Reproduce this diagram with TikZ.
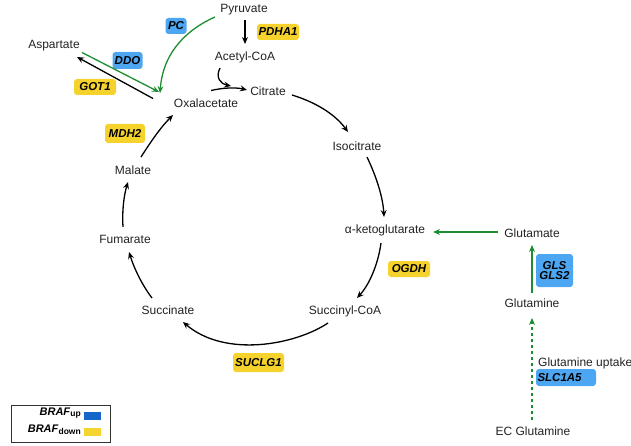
\documentclass[tikz,border=0pt]{standalone}
\usepackage{fontspec}
\setmainfont{Liberation Sans}
\usetikzlibrary{arrows.meta}
\definecolor{gblue}{HTML}{4DA6F2}
\definecolor{gyellow}{HTML}{F5D22C}
\definecolor{ggreen}{HTML}{1E8C30}
\definecolor{lblue}{HTML}{1566C8}
\definecolor{lyellow}{HTML}{F5D430}
\definecolor{txt}{HTML}{222222}
\tikzset{
  met/.style={inner sep=0pt, text=txt, font=\fontsize{12}{14}\selectfont},
  enz/.style={rounded corners=3pt, inner sep=0.5pt, text=black, align=center,
    font=\fontsize{11.5}{12}\selectfont\bfseries\itshape},
  upbox/.style={enz, fill=gblue},
  downbox/.style={enz, fill=gyellow},
  arr/.style={line width=1.3pt, -{Stealth[length=7pt,width=6pt,inset=2.5pt]}},
  blk/.style={arr, black},
  grn/.style={arr, ggreen},
}
\begin{document}
\begin{tikzpicture}[x=1pt,y=-1pt]
\useasboundingbox (0,0) rectangle (631,446);
% metabolites
\node[met] (pyr) at (244,10) {Pyruvate};
\node[met] (aco) at (245,57) {Acetyl-CoA};
\node[met] (asp) at (54,46) {Aspartate};
\node[met] (oaa) at (206,103) {Oxalacetate};
\node[met] (cit) at (268,91) {Citrate};
\node[met] (iso) at (357,146) {Isocitrate};
\node[met] (akg) at (385,230) {α-ketoglutarate};
\node[met] (glu) at (532,233) {Glutamate};
\node[met] (gln) at (532,303) {Glutamine};
\node[met] (ecg) at (533,431) {EC Glutamine};
\node[met] (scoa) at (345,311) {Succinyl-CoA};
\node[met] (suc) at (168,310) {Succinate};
\node[met] (fum) at (125,239) {Fumarate};
\node[met] (mal) at (133,170) {Malate};
\node[met, anchor=west] (upt) at (538,363) {Glutamine uptake};
% enzymes
\node[upbox, minimum width=21pt, minimum height=16pt] (pc) at (176,26) {PC};
\node[downbox, minimum width=42pt, minimum height=16pt] (pdha) at (278,32) {PDHA1};
\node[upbox, minimum width=30pt, minimum height=17pt] (ddo) at (127.5,60.5) {DDO};
\node[downbox, minimum width=42pt, minimum height=16pt] (got) at (95,87) {GOT1};
\node[downbox, minimum width=40pt, minimum height=19pt] (mdh) at (125,133.5) {MDH2};
\node[downbox, minimum width=42pt, minimum height=16pt] (ogdh) at (409,269) {OGDH};
\node[downbox, minimum width=51pt, minimum height=19pt] (suclg) at (258.5,362.5) {SUCLG1};
\node[upbox, minimum width=37pt, minimum height=33pt] (gls) at (554.5,270.5) {GLS\\[-1.5pt]GLS2};
\node[upbox, minimum width=60pt, minimum height=17pt, text width=57pt, align=left] (slc) at (566,377.5) {SLC1A5};
% connectors
\coordinate (p1) at (245,20);
\coordinate (p2) at (245,44);
\draw[blk] (p1) -- (p2);
\coordinate (a1) at (220,68);
\coordinate (a2) at (231,86);
\draw[blk] (a1) .. controls (215,78) and (221,84) .. (a2);
\coordinate (o1) at (211,90.5);
\coordinate (o2) at (247,90);
\draw[blk] (o1) .. controls (222,88) and (235,87) .. (o2);
\coordinate (pc1) at (215,17);
\coordinate (pc2) at (160,93);
\draw[grn] (pc1) .. controls (190,28) and (163,50) .. (pc2);
\coordinate (as1) at (82,52.5);
\coordinate (as2) at (159,92);
\draw[grn] (as1) -- (as2);
\coordinate (ox1) at (153,98.5);
\coordinate (ox2) at (77,57);
\draw[blk] (ox1) -- (ox2);
\coordinate (c1) at (292,95);
\coordinate (c2) at (348,132);
\draw[blk] (c1) .. controls (315,102) and (335,114) .. (c2);
\coordinate (i1) at (367,157);
\coordinate (i2) at (384,217);
\draw[blk] (i1) .. controls (377,178) and (383,198) .. (i2);
\coordinate (k1) at (381,243);
\coordinate (k2) at (357,298);
\draw[blk] (k1) .. controls (378,265) and (369,285) .. (k2);
\coordinate (s1) at (328,323);
\coordinate (s2) at (183,322);
\draw[blk] (s1) .. controls (295,345) and (225,358) .. (s2);
\coordinate (f1) at (152,298);
\coordinate (f2) at (129,252);
\draw[blk] (f1) .. controls (142,285) and (134,268) .. (f2);
\coordinate (m1) at (123,227);
\coordinate (m2) at (128,182);
\draw[blk] (m1) .. controls (122,210) and (124,195) .. (m2);
\coordinate (x1) at (141,157);
\coordinate (x2) at (173,115);
\draw[blk] (x1) .. controls (150,143) and (160,128) .. (x2);
\coordinate (g1) at (498,232);
\coordinate (g2) at (433,232);
\draw[grn] (g1) -- (g2);
\coordinate (q1) at (532,293);
\coordinate (q2) at (532,245);
\draw[grn] (q1) -- (q2);
\coordinate (e1) at (532,420);
\coordinate (e2) at (532,318);
\draw[grn, dash pattern=on 3pt off 3pt] (e1) -- (e2);
% legend
\node[draw=black!80, line width=1pt, minimum width=99pt, minimum height=37pt, inner sep=0pt] (leg) at (60.5,423.5) {};
\node[fill=lblue, minimum width=17pt, minimum height=8pt, inner sep=0pt] (lb) at (92.5,416) {};
\node[fill=lyellow, minimum width=17pt, minimum height=8pt, inner sep=0pt] (ly) at (92.5,432) {};
\node[anchor=east, inner sep=0pt, font=\fontsize{11}{12}\selectfont\bfseries] (lt1) at (81,413) {\textit{BRAF}\raisebox{-1.5pt}{\fontsize{8.5}{9}\selectfont up}};
\node[anchor=east, inner sep=0pt, font=\fontsize{11}{12}\selectfont\bfseries] (lt2) at (81,430) {\textit{BRAF}\raisebox{-1.5pt}{\fontsize{8.5}{9}\selectfont down}};
\end{tikzpicture}
\end{document}
